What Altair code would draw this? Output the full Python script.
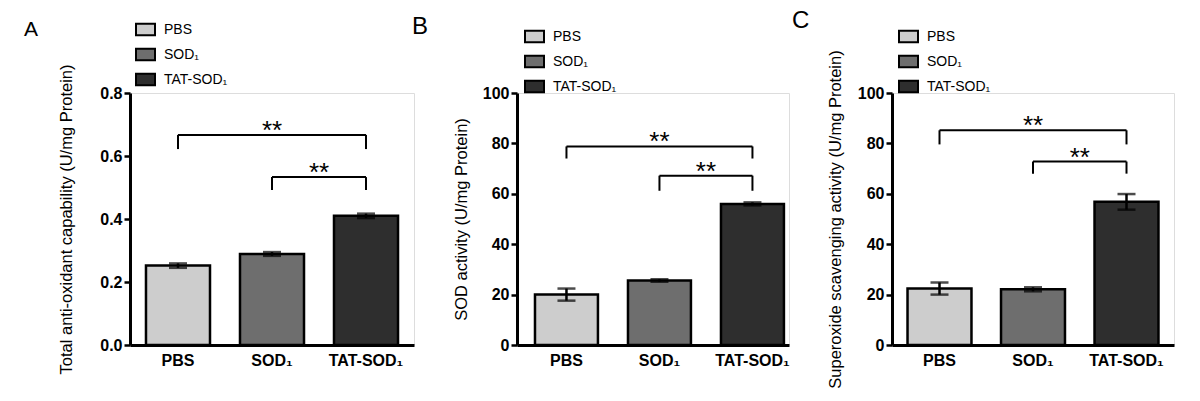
import altair as alt
import pandas as pd

# ---------------- data ----------------
groups = ["PBS", "SOD₁", "TAT-SOD₁"]
fills = ["#cdcdcd", "#6e6e6e", "#2e2e2e"]

a_vals = [0.252, 0.289, 0.410]
a_errs = [0.007, 0.006, 0.007]
b_vals = [20.0, 25.6, 56.0]
b_errs = [2.4, 0.5, 0.6]
c_vals = [22.4, 22.1, 56.8]
c_errs = [2.4, 0.8, 3.1]

a_ticks = [0, 0.2, 0.4, 0.6, 0.8]
bc_ticks = [0, 20, 40, 60, 80, 100]

# brackets: left group, bar level, end of drop (right end is always TAT-SOD1)
a_br_left = ["PBS", "SOD₁"]
a_br_level = [0.667, 0.533]
a_br_drop = [0.622, 0.492]
b_br_left = ["PBS", "SOD₁"]
b_br_level = [78.8, 67.2]
b_br_drop = [74.0, 61.2]
c_br_left = ["PBS", "SOD₁"]
c_br_level = [85.2, 72.8]
c_br_drop = [79.6, 68.0]
br_right = "TAT-SOD₁"
star_anchor = ["SOD₁", "SOD₁"]   # stars sit over the middle of each bracket
stars = "**"

titles = [
    "Total anti-oxidant capability (U/mg Protein)",
    "SOD activity (U/mg Protein)",
    "Superoxide scavenging activity (U/mg Protein)",
]
letters = ["A", "B", "C"]

FONT = "Liberation Sans"
H = 252


def panel(letter, vals, errs, title, ydom, yvals, yfmt, br_left, br_level, br_drop,
          width, p_in, p_out, align, title_pad, lx, ly, letter_x, letter_y, letter_size,
          step):
    df = pd.DataFrame({
        "group": groups,
        "value": vals,
        "lo": [v - e for v, e in zip(vals, errs)],
        "hi": [v + e for v, e in zip(vals, errs)],
    })
    caps = pd.DataFrame({
        "group": groups * 2,
        "y": [v - e for v, e in zip(vals, errs)] + [v + e for v, e in zip(vals, errs)],
    })
    hbr = pd.DataFrame({"l": br_left, "r": [br_right] * len(br_left), "level": br_level})
    vbr = pd.DataFrame({
        "group": br_left + [br_right] * len(br_left),
        "level": br_level + br_level,
        "drop": br_drop + br_drop,
    })
    st = pd.DataFrame({"group": star_anchor, "level": br_level, "t": [stars] * len(br_left)})

    xscale = alt.Scale(domain=groups, paddingInner=p_in, paddingOuter=p_out, align=align)
    yscale = alt.Scale(domain=ydom, nice=False, zero=True)
    xaxis = alt.Axis(title=None, labelAngle=0, ticks=False, domainWidth=3, domainColor="black",
                     labelFont=FONT, labelFontWeight="bold", labelFontSize=16,
                     labelColor="black", labelPadding=7)
    yaxis = alt.Axis(title=title, values=yvals, format=yfmt, grid=False, domainWidth=3,
                     domainColor="black", tickColor="black", tickWidth=2.5, tickSize=6,
                     labelFont=FONT, labelFontWeight="bold", labelFontSize=16,
                     labelColor="black", labelPadding=2, titleFont=FONT,
                     titleFontWeight="normal", titleFontSize=16.5, titleColor="black",
                     titlePadding=title_pad)

    bars = alt.Chart(df).mark_bar(stroke="black", strokeWidth=2.5).encode(
        x=alt.X("group:N", scale=xscale, sort=groups, axis=xaxis),
        y=alt.Y("value:Q", scale=yscale, axis=yaxis),
        fill=alt.Fill("group:N", sort=groups,
                      scale=alt.Scale(domain=groups, range=fills),
                      legend=alt.Legend(title=None, orient="none", legendX=lx, legendY=ly,
                                        symbolType="M-1,-0.6H1V0.6H-1Z", symbolSize=361,
                                        symbolStrokeColor="black", symbolStrokeWidth=2,
                                        labelFont=FONT, labelFontSize=14,
                                        labelColor="black", rowPadding=4, padding=0,
                                        labelOffset=8)),
    )
    err = alt.Chart(df).mark_rule(color="black", strokeWidth=2.5).encode(
        x=alt.X("group:N", scale=xscale, sort=groups),
        y=alt.Y("lo:Q", scale=yscale),
        y2="hi:Q",
    )
    cap = alt.Chart(caps).mark_tick(color="black", thickness=2.5, size=18).encode(
        x=alt.X("group:N", scale=xscale, sort=groups),
        y=alt.Y("y:Q", scale=yscale),
    )
    hline = alt.Chart(hbr).mark_rule(color="black", strokeWidth=2).encode(
        x=alt.X("l:N", scale=xscale, sort=groups),
        x2="r:N",
        y=alt.Y("level:Q", scale=yscale),
    )
    vline = alt.Chart(vbr).mark_rule(color="black", strokeWidth=2).encode(
        x=alt.X("group:N", scale=xscale, sort=groups),
        y=alt.Y("level:Q", scale=yscale),
        y2="drop:Q",
    )
    txt_top = alt.Chart(st.iloc[[0]]).mark_text(font=FONT, fontSize=26, baseline="alphabetic",
                                                color="black", dy=4).encode(
        x=alt.X("group:N", scale=xscale, sort=groups),
        y=alt.Y("level:Q", scale=yscale),
        text="t:N",
    )
    txt_2 = alt.Chart(st.iloc[[1]]).mark_text(font=FONT, fontSize=26, baseline="alphabetic",
                                              color="black", dy=4, dx=step / 2).encode(
        x=alt.X("group:N", scale=xscale, sort=groups),
        y=alt.Y("level:Q", scale=yscale),
        text="t:N",
    )
    let = alt.Chart(pd.DataFrame({"t": [letter]})).mark_text(
        font=FONT, fontSize=letter_size, align="left", baseline="top", color="black"
    ).encode(text="t:N", x=alt.value(letter_x), y=alt.value(letter_y))

    return alt.layer(bars, err, cap, hline, vline, txt_top, txt_2, let).properties(
        width=width, height=H
    )


pA = panel(letters[0], a_vals, a_errs, titles[0], [0, 0.8], a_ticks, ".1f",
           a_br_left, a_br_level, a_br_drop, 284, 0.319, 0.17, 0.5, 25,
           5, -74, -106, -74, 21, 94)
pB = panel(letters[1], b_vals, b_errs, titles[1], [0, 100], bc_ticks, "d",
           b_br_left, b_br_level, b_br_drop, 272, 0.323, 0.124, 0.78, 13,
           7, -67, -105, -78, 24, 93)
pC = panel(letters[2], c_vals, c_errs, titles[2], [0, 100], bc_ticks, "d",
           c_br_left, c_br_level, c_br_drop, 282, 0.316, 0.166, 0.5, 14,
           6, -67, -100, -84, 24, 93.5)

chart = alt.hconcat(pA, pB, pC, spacing=103, bounds="flush").resolve_scale(
    fill="independent", x="independent", y="independent"
).resolve_legend(fill="independent").properties(
    padding={"left": 15, "top": 0, "right": 0, "bottom": 0}
).configure_view(stroke=None).configure(background="white")

chart.save("out.html", embed_options={"renderer": "svg", "actions": False})
